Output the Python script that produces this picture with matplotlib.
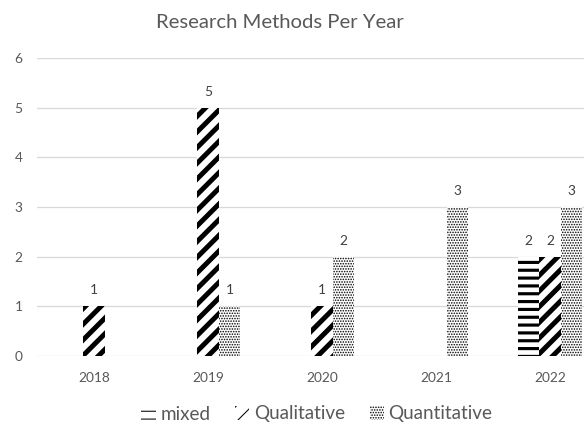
import numpy as np
import matplotlib.pyplot as plt
from matplotlib.patches import Patch

years = ['2018', '2019', '2020', '2021', '2022']
mixed = [0, 0, 0, 0, 2]
qualitative = [1, 5, 1, 0, 2]
quantitative = [0, 1, 2, 3, 3]

series_names = ['mixed', 'Qualitative', 'Quantitative']
hatches = ['--', '//', '......']
hatch_widths = [2.4, 3.8, 0.8]

plt.rcParams['font.family'] = ['Lato', 'DejaVu Sans']
grey = '#595959'


def set_hw(artist, lw):
    if hasattr(artist, 'set_hatch_linewidth'):
        artist.set_hatch_linewidth(lw)


dpi = 94
fig = plt.figure(figsize=(584 / dpi, 425 / dpi), dpi=dpi)
ax = fig.add_axes([37 / 584, 69 / 425, 570 / 584, 298 / 425])

x = np.arange(len(years))
w = 0.19
data = [mixed, qualitative, quantitative]
for i, vals in enumerate(data):
    pos = x + (i - 1) * w
    plt.rcParams['hatch.linewidth'] = hatch_widths[i]
    bars = ax.bar(pos, vals, w, color='white', edgecolor='black',
                  linewidth=0, hatch=hatches[i], zorder=3)
    for b in bars:
        set_hw(b, hatch_widths[i])
    for p, v in zip(pos, vals):
        if v > 0:
            ax.text(p, v + 0.2, str(v), ha='center', va='bottom',
                    fontsize=10.5, color='#404040')

ax.set_xlim(-0.5, len(years) - 0.5)
ax.set_ylim(0, 6)
ax.set_yticks(range(7))
ax.set_xticks(x)
ax.set_xticklabels(years)
ax.grid(axis='y', color='#d9d9d9', linewidth=1, zorder=0)
ax.set_axisbelow(True)
for s in ax.spines.values():
    s.set_visible(False)
ax.tick_params(axis='both', length=0, labelsize=10.5, colors=grey)
ax.tick_params(axis='y', pad=11)
ax.tick_params(axis='x', pad=12)

fig.text(280 / 584, 1 - 23 / 425, 'Research Methods Per Year',
         ha='center', va='center', fontsize=15.5, color=grey)

handles = []
for i, h in enumerate(hatches):
    plt.rcParams['hatch.linewidth'] = hatch_widths[i]
    hp = Patch(facecolor='white', edgecolor='black', linewidth=0, hatch=h)
    set_hw(hp, hatch_widths[i])
    handles.append(hp)
leg = fig.legend(handles, series_names, loc='center', ncol=3,
                 bbox_to_anchor=(317 / 584, 1 - 414 / 425), frameon=False,
                 fontsize=14.5, handlelength=0.75, handleheight=0.7,
                 handletextpad=0.25, columnspacing=1.3, labelcolor=grey)

fig.savefig('out.png', dpi=dpi)
